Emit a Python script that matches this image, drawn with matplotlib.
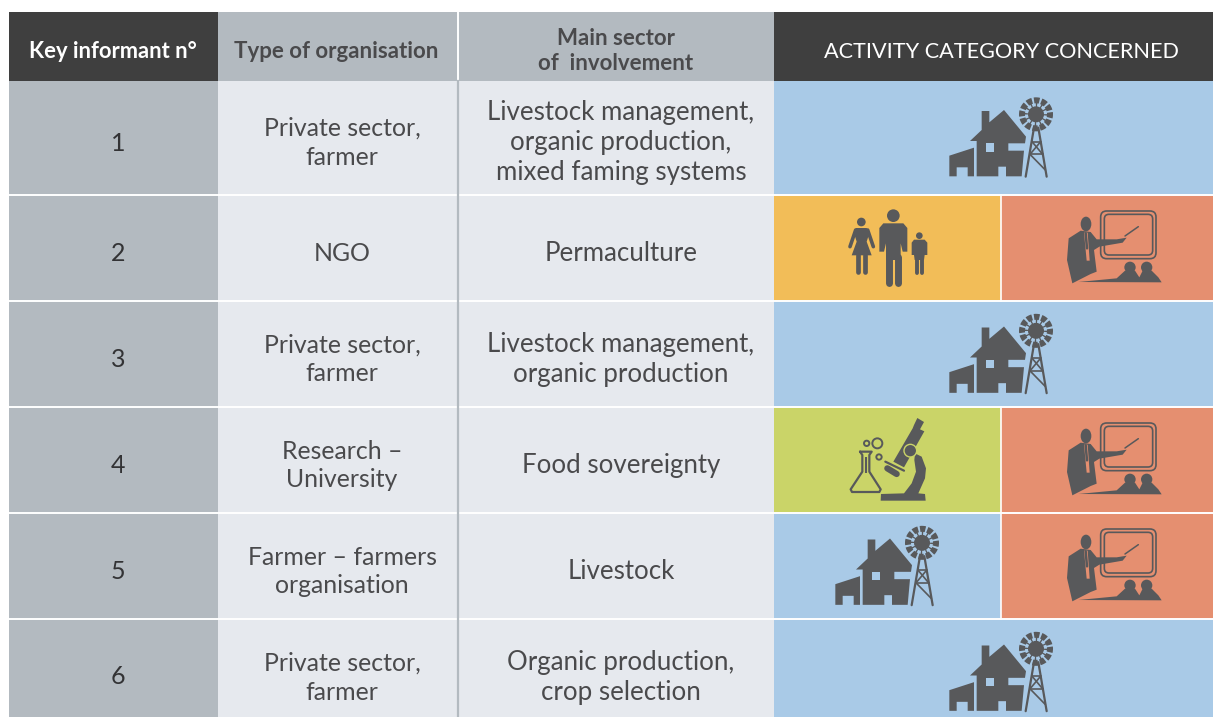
"""Key informant table with activity category pictograms."""

import matplotlib
matplotlib.use("Agg")
import matplotlib.pyplot as plt
from matplotlib.patches import Polygon, Rectangle, Circle, Ellipse, Wedge, FancyBboxPatch

plt.rcParams['font.family'] = ['Lato', 'DejaVu Sans']

# table content
headers = ["Key informant n°", "Type of organisation", "Main sector\nof  involvement",
           "ACTIVITY CATEGORY CONCERNED"]
informants = ["1", "2", "3", "4", "5", "6"]
org_types = ["Private sector,\nfarmer", "NGO", "Private sector,\nfarmer",
             "Research –\nUniversity", "Farmer – farmers\norganisation", "Private sector,\nfarmer"]
sectors = ["Livestock management,\norganic production,\nmixed faming systems", "Permaculture",
           "Livestock management,\norganic production", "Food sovereignty", "Livestock",
           "Organic production,\ncrop selection"]
categories = [["farm"], ["family", "training"], ["farm"], ["research", "training"],
              ["farm", "training"], ["farm"]]

# layout, in pixels of the picture
row_edges = [81, 194.5, 300.5, 406.5, 512.5, 618.5, 717]
col_edges = [9, 217.5, 457.5, 773.5, 1213]
split_x = 1001
head_top, head_bot = 12, 81
# text is not quite centred in the rows, the last row is cut at the bottom
text_dy = [5, 6, 6, 6, 6, 10]
number_dy = [6, 6, 6, 6, 6, 9]

DARK = '#3f3f3f'
GREY = '#b3bac0'
LIGHT = '#e6e9ee'
ICON = '#58595b'
TEXT = '#4a4a4c'
cell_colors = {'farm': '#a9cae7', 'family': '#f2bd58', 'training': '#e58f70', 'research': '#cad468'}

fig = plt.figure(figsize=(12.13, 7.17), dpi=100)
ax = fig.add_axes([0, 0, 1, 1])
ax.set_xlim(0, 1213)
ax.set_ylim(717, 0)
ax.axis('off')


def rect(x0, y0, x1, y1, color, z=1):
    ax.add_patch(Rectangle((x0, y0), x1 - x0, y1 - y0, fc=color, ec='none', zorder=z))


def poly(x0, y0, pts, color=ICON, z=3):
    # icon outlines were traced at 3x, so scale them back down
    ax.add_patch(Polygon([(x0 + px / 3, y0 + py / 3) for px, py in pts], closed=True,
                         fc=color, ec='none', zorder=z))


def stroke(x0, y0, pts, lw, color=ICON, z=3, cap='round'):
    ax.plot([x0 + p[0] / 3 for p in pts], [y0 + p[1] / 3 for p in pts], color=color, lw=lw,
            solid_capstyle=cap, solid_joinstyle='round', zorder=z)


def circle(x0, y0, cx, cy, r, fc=ICON, ec='none', lw=0, z=3):
    ax.add_patch(Circle((x0 + cx / 3, y0 + cy / 3), r / 3, fc=fc, ec=ec, lw=lw, zorder=z))


def draw_farm(x0, y0, bg):
    poly(x0, y0, [(120, 168), (155, 135), (155, 78), (178, 78), (178, 112), (222, 75),
                  (288, 155), (285, 175), (235, 175), (235, 197), (282, 197), (275, 274),
                  (228, 274), (228, 245), (205, 245), (205, 274), (140, 274), (140, 168)])
    poly(x0, y0, [(168, 175), (192, 175), (192, 200), (168, 200)], bg, z=4)
    poly(x0, y0, [(58, 212), (132, 188), (132, 274), (113, 274), (113, 247), (80, 247),
                  (80, 274), (58, 274)])
    # windmill wheel
    cx, cy = x0 + 318 / 3, y0 + 88 / 3
    for k in range(12):
        a = k * 30 + 3
        ax.add_patch(Wedge((cx, cy), 17, a - 11, a + 11, width=6, fc=ICON, ec='none', zorder=3))
        ax.add_patch(Wedge((cx, cy), 12, a - 4, a + 4, width=6, fc=ICON, ec='none', zorder=3))
    ax.add_patch(Circle((cx, cy), 8, fc=ICON, ec='none', zorder=3))
    # tower
    stroke(x0, y0, [(312, 128), (287, 275)], 1.6)
    stroke(x0, y0, [(325, 128), (350, 275)], 1.6)
    for seg in [[(306, 170), (332, 170)], [(300, 208), (338, 208)], [(306, 170), (338, 208)],
                [(332, 170), (300, 208)], [(300, 208), (346, 255)]]:
        stroke(x0, y0, seg, 1.2)


def draw_family(x0, y0, bg):
    # woman
    circle(x0, y0, 94, 66, 13)
    poly(x0, y0, [(78, 84), (110, 84), (118, 100), (110, 125), (125, 166), (65, 166),
                  (80, 125), (72, 100)])
    stroke(x0, y0, [(77, 90), (60, 140)], 2.6)
    stroke(x0, y0, [(113, 90), (130, 140)], 2.6)
    stroke(x0, y0, [(85, 165), (85, 217)], 3.4)
    stroke(x0, y0, [(104, 165), (104, 217)], 3.4)
    # man
    circle(x0, y0, 190, 47, 19)
    poly(x0, y0, [(160, 70), (220, 70), (232, 84), (232, 155), (218, 155), (212, 130), (212, 180),
                  (168, 180), (168, 130), (162, 155), (148, 155), (148, 84)])
    stroke(x0, y0, [(178, 170), (178, 250)], 5)
    stroke(x0, y0, [(203, 170), (203, 250)], 5)
    # child
    circle(x0, y0, 268, 107, 10)
    poly(x0, y0, [(252, 119), (284, 119), (292, 128), (292, 165), (284, 165), (282, 180),
                  (254, 180), (252, 165), (245, 165), (245, 128)])
    stroke(x0, y0, [(261, 175), (261, 219)], 2.8)
    stroke(x0, y0, [(275, 175), (275, 219)], 2.8)


def draw_training(x0, y0, bg):
    # board, double outline
    for bx0, by0, bx1, by1, r in [(812, 33, 978, 176, 18), (823, 43, 968, 165, 14)]:
        ax.add_patch(FancyBboxPatch((x0 + (bx0 + r) / 3, y0 + (by0 + r) / 3), (bx1 - bx0 - 2 * r) / 3,
                                    (by1 - by0 - 2 * r) / 3, boxstyle=f"round,pad={r / 3}",
                                    fc='none', ec=ICON, lw=1.2, zorder=3))
    # presenter
    ax.add_patch(Ellipse((x0 + 768 / 3, y0 + 72 / 3), 32 / 3, 44 / 3, fc=ICON, ec='none', zorder=4))
    poly(x0, y0, [(752, 92), (716, 115), (711, 180), (727, 250), (782, 222), (800, 215),
                  (792, 150), (808, 140), (878, 128), (890, 113), (860, 118), (800, 118), (782, 96)],
         ICON, z=4)
    poly(x0, y0, [(762, 98), (773, 98), (779, 182), (770, 182)], bg, z=5)
    stroke(x0, y0, [(767, 100), (771, 145)], 1.8, z=6)
    stroke(x0, y0, [(885, 108), (925, 80)], 1.1)
    # audience
    circle(x0, y0, 900, 202, 17)
    circle(x0, y0, 950, 202, 17)
    poly(x0, y0, [(745, 246), (860, 235), (885, 212), (915, 212), (928, 232), (938, 212),
                  (965, 212), (985, 232), (995, 247)])


def draw_research(x0, y0, bg):
    # flask
    flask = [(90, 125), (125, 125), (118, 135), (118, 185), (152, 238), (148, 246), (66, 246),
             (62, 238), (97, 185), (97, 135), (90, 125)]
    stroke(x0, y0, flask, 1.6)
    stroke(x0, y0, [(108, 140), (108, 190)], 1.5, cap='butt')
    for cx, cy, r in [(110, 100, 8), (142, 100, 15), (147, 141, 8)]:
        circle(x0, y0, cx, cy, r, fc='none', ec=ICON, lw=1.4)
    # microscope
    poly(x0, y0, [(262, 24), (282, 36), (270, 58), (283, 64), (222, 172), (190, 155), (248, 55), (252, 45)])
    stroke(x0, y0, [(166, 155), (222, 182)], 1.6)
    stroke(x0, y0, [(172, 175), (200, 192)], 4.5)
    circle(x0, y0, 241, 122, 19, ec=bg, lw=1, z=4)
    poly(x0, y0, [(255, 130), (275, 140), (288, 175), (285, 205), (265, 250), (285, 252), (287, 272),
                  (152, 272), (153, 252), (222, 250), (245, 220), (258, 185), (253, 150)])


draw_icon = {'farm': draw_farm, 'family': draw_family, 'training': draw_training,
             'research': draw_research}
# origin of each traced icon: x, then y offset from the top of its row
icon_x = {'farm': 816, 'family': 830, 'training': 830, 'research': 830}
icon_dy = {'family': 5.5, 'training': 5.5, 'research': 3.5, 'farm': 1}

# header band
rect(col_edges[0], head_top, col_edges[1], head_bot, DARK)
rect(col_edges[1], head_top, col_edges[3], head_bot, GREY)
rect(col_edges[3], head_top, col_edges[4], head_bot, DARK)
ax.text(113, 52, headers[0], ha='center', va='center', fontsize=15.8, fontweight='bold', color='white')
ax.text(336.5, 52, headers[1], ha='center', va='center', fontsize=16, fontweight='bold', color=TEXT)
ax.text(616, 51, headers[2], ha='center', va='center', fontsize=16, fontweight='bold', color=TEXT,
        linespacing=1.2)
ax.text(1001, 52, headers[3], ha='center', va='center', fontsize=15.6, color='white')

# body rows
for i, label in enumerate(informants):
    y0, y1 = row_edges[i], row_edges[i + 1]
    ym = (y0 + y1) / 2
    rect(col_edges[0], y0, col_edges[1], y1, GREY)
    rect(col_edges[1], y0, col_edges[3], y1, LIGHT)
    ax.text(118, ym + number_dy[i], label, ha='center', va='center', fontsize=18, color='#333335')
    ax.text(342, ym + text_dy[i], org_types[i], ha='center', va='center', fontsize=17.9, color=TEXT,
            linespacing=1.3)
    ax.text(621, ym + text_dy[i], sectors[i], ha='center', va='center', fontsize=18.6, color=TEXT,
            linespacing=1.25)

    cats = categories[i]
    if len(cats) == 1:
        rect(col_edges[3], y0, col_edges[4], y1, cell_colors[cats[0]])
        # row 1 sits lower in its taller cell
        draw_farm(930, y0 + (4 if i == 0 else icon_dy['farm']), cell_colors[cats[0]])
    else:
        rect(col_edges[3], y0, split_x, y1, cell_colors[cats[0]])
        rect(split_x, y0, col_edges[4], y1, cell_colors[cats[1]])
        for cat in cats:
            draw_icon[cat](icon_x[cat], y0 + icon_dy[cat], cell_colors[cat])
        ax.plot([split_x, split_x], [y0, y1], color='white', lw=1.2, zorder=2)

# separators
for y in row_edges[1:-1]:
    ax.plot([col_edges[0], col_edges[4]], [y, y], color='white', lw=1.4, zorder=2)
ax.plot([457.5, 457.5], [head_top, head_bot], color='white', lw=1.4, zorder=2)
ax.plot([457.5, 457.5], [head_bot, 717], color=GREY, lw=1.6, zorder=2.5)

fig.savefig('out.png', dpi=100)
